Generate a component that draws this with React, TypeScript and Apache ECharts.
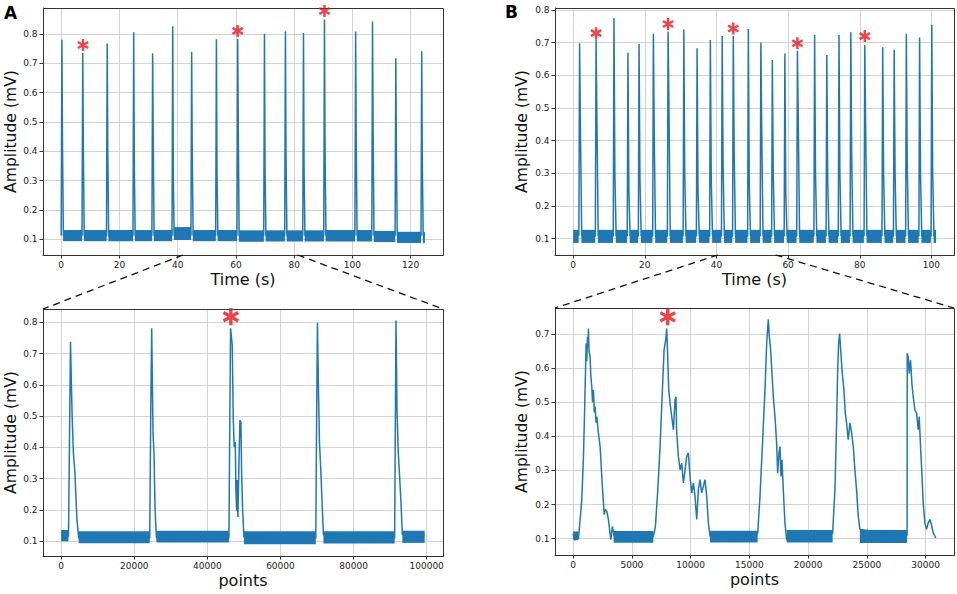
import React, { useEffect, useRef } from "react";
import * as echarts from "echarts";

const BLUE = "#1f77b4";
const RED = "#e8141c";
const FONT = "DejaVu Sans";

// ---------- Panel A, top (time in s) ----------
const aTopPeakTimes = [0.25, 7.4, 15.8, 24.9, 31.4, 38.3, 44.8, 53.3, 60.6, 69.8, 77.0, 83.2, 90.4, 101.1, 106.9, 114.9, 123.8];
const aTopPeakValues = [0.780, 0.736, 0.767, 0.805, 0.734, 0.826, 0.738, 0.782, 0.783, 0.800, 0.809, 0.803, 0.849, 0.808, 0.842, 0.717, 0.741];
const aTopShoulderValues = [0.42, 0.42, 0.40, 0.36, 0.45, 0.30, 0.40, 0.33, 0.49, 0.34, 0.38, 0.33, 0.41, 0.44, 0.47, 0.38, 0.36];
const aTopBandLo = [0.094, 0.094, 0.094, 0.094, 0.094, 0.098, 0.094, 0.094, 0.092, 0.093, 0.093, 0.093, 0.093, 0.093, 0.091, 0.088, 0.088];
const aTopBandHi = [0.132, 0.132, 0.132, 0.132, 0.132, 0.142, 0.132, 0.132, 0.131, 0.131, 0.131, 0.131, 0.132, 0.132, 0.129, 0.126, 0.126];
const aTopEnd = 124.9;
const aTopStars = [[7.5, 0.762], [60.6, 0.81], [90.4, 0.878]];
const aZoomRange = [41.8, 81.2];

// ---------- Panel A, bottom (points) ----------
const aBotTrace = [
  [0, 0.12], [2000, 0.115], [2300, 0.45], [2550, 0.738], [2800, 0.6], [3000, 0.5], [3350, 0.38], [3750, 0.32],
  [4000, 0.25], [4300, 0.17], [4800, 0.11],
  [24230, 0.11], [24500, 0.5], [24770, 0.781], [24950, 0.6], [25140, 0.444], [25400, 0.38], [25690, 0.2], [26060, 0.11],
  [45900, 0.11], [46150, 0.5], [46350, 0.781], [46810, 0.727], [47080, 0.492], [47350, 0.401], [47630, 0.417],
  [47810, 0.262], [48000, 0.198], [48180, 0.295], [48360, 0.177], [48640, 0.348], [48910, 0.487], [49180, 0.481],
  [49370, 0.316], [49650, 0.2], [50000, 0.113],
  [69670, 0.11], [69900, 0.5], [70120, 0.799], [70400, 0.583], [70670, 0.417], [71040, 0.327], [71400, 0.22], [71760, 0.12],
  [91240, 0.11], [91450, 0.5], [91610, 0.806], [91890, 0.519], [92250, 0.38], [92610, 0.305], [92990, 0.22], [93350, 0.12],
  [99460, 0.12],
];
const aBotBand = [
  [0, 2000, 0.099, 0.135], [4800, 24230, 0.093, 0.131], [26060, 45900, 0.095, 0.133],
  [50000, 69670, 0.09, 0.131], [71760, 91240, 0.092, 0.131], [93350, 99460, 0.094, 0.133],
];
const aBotStars = [[46430, 0.818]];

// ---------- Panel B, top (time in s) ----------
const bTopPeakTimes = [1.8, 6.4, 11.4, 15.3, 18.4, 22.4, 26.5, 30.9, 34.6, 38.3, 41.6, 44.7, 48.9, 52.4, 55.6, 59.1, 62.6, 67.4, 70.8, 74.2, 77.5, 81.4, 86.4, 89.6, 93.0, 96.7, 100.1];
const bTopPeakValues = [0.698, 0.710, 0.775, 0.669, 0.696, 0.727, 0.734, 0.740, 0.683, 0.708, 0.720, 0.720, 0.742, 0.700, 0.647, 0.667, 0.675, 0.723, 0.662, 0.723, 0.732, 0.693, 0.686, 0.678, 0.727, 0.716, 0.754];
const bTopShoulderValues = [0.42, 0.455, 0.30, 0.25, 0.28, 0.40, 0.496, 0.30, 0.25, 0.28, 0.33, 0.36, 0.27, 0.42, 0.30, 0.24, 0.45, 0.30, 0.28, 0.30, 0.35, 0.43, 0.30, 0.30, 0.32, 0.30, 0.30];
const bTopBandLo = 0.087;
const bTopBandHi = 0.127;
const bTopEnd = 101.3;
const bTopStars = [[6.4, 0.729], [26.5, 0.757], [44.7, 0.743], [62.6, 0.698], [81.4, 0.720]];
const bZoomRange = [40.4, 56.5];

// ---------- Panel B, bottom (points) ----------
const bBotTrace = [
  [0, 0.115], [150, 0.095], [300, 0.112], [453, 0.1], [595, 0.156], [737, 0.214], [879, 0.341], [964, 0.458],
  [1049, 0.584], [1105, 0.672], [1160, 0.62], [1219, 0.692], [1260, 0.66], [1304, 0.716], [1350, 0.65], [1446, 0.633],
  [1500, 0.58], [1587, 0.545], [1650, 0.5], [1729, 0.536], [1800, 0.47], [1871, 0.487], [1950, 0.44], [2012, 0.458],
  [2154, 0.409], [2296, 0.37], [2438, 0.282], [2579, 0.204], [2650, 0.17], [2721, 0.185], [2863, 0.18], [3004, 0.156],
  [3203, 0.097], [3345, 0.136], [3486, 0.107],
  [6830, 0.107], [7000, 0.135], [7200, 0.241], [7398, 0.37], [7596, 0.536], [7738, 0.653], [7880, 0.683], [7965, 0.716],
  [8050, 0.633], [8135, 0.536], [8248, 0.497], [8390, 0.458], [8532, 0.419], [8673, 0.507], [8758, 0.516], [8800, 0.42],
  [8957, 0.341], [9098, 0.302], [9240, 0.321], [9382, 0.263], [9520, 0.3], [9665, 0.341], [9807, 0.351], [9948, 0.282],
  [10090, 0.234], [10232, 0.263], [10373, 0.224], [10515, 0.156], [10657, 0.243], [10799, 0.273], [10940, 0.234],
  [11082, 0.253], [11224, 0.273], [11365, 0.224], [11507, 0.146], [11649, 0.107],
  [15705, 0.115], [15901, 0.224], [16128, 0.39], [16326, 0.536], [16468, 0.672], [16610, 0.743], [16695, 0.692],
  [16808, 0.653], [16921, 0.584], [17034, 0.516], [17176, 0.458], [17318, 0.38], [17403, 0.292], [17516, 0.351],
  [17601, 0.37], [17686, 0.282], [17771, 0.331], [17884, 0.243], [18026, 0.146], [18168, 0.097],
  [22080, 0.115], [22278, 0.243], [22420, 0.439], [22505, 0.584], [22590, 0.672], [22675, 0.701], [22788, 0.643],
  [22902, 0.584], [23043, 0.536], [23157, 0.468], [23270, 0.439], [23412, 0.39], [23553, 0.439], [23700, 0.41],
  [23837, 0.37], [23978, 0.302], [24120, 0.243], [24262, 0.166], [24404, 0.127],
  [28420, 0.11], [28430, 0.643], [28515, 0.633], [28600, 0.584], [28713, 0.623], [28826, 0.555], [28940, 0.516],
  [29081, 0.477], [29223, 0.468], [29365, 0.419], [29450, 0.458], [29563, 0.37], [29676, 0.292], [29790, 0.204],
  [29931, 0.146], [30073, 0.127], [30215, 0.146], [30356, 0.156], [30500, 0.14], [30640, 0.117], [30867, 0.102],
];
const bBotBand = [
  [0, 450, 0.096, 0.121], [3450, 6830, 0.088, 0.122], [11650, 15700, 0.089, 0.123],
  [18170, 22080, 0.089, 0.125], [24400, 28420, 0.087, 0.125],
];
const bBotStars = [[8050, 0.75]];

// ---------- axis ticks ----------
const aTopXTicks = [0, 20, 40, 60, 80, 100, 120];
const aBotXTicks = [0, 20000, 40000, 60000, 80000, 100000];
const bTopXTicks = [0, 20, 40, 60, 80, 100];
const bBotXTicks = [0, 5000, 10000, 15000, 20000, 25000, 30000];
const yTicks8 = [0.1, 0.2, 0.3, 0.4, 0.5, 0.6, 0.7, 0.8];
const yTicks7 = [0.1, 0.2, 0.3, 0.4, 0.5, 0.6, 0.7];

// layout
const GRIDS = [
  { left: 43, top: 8, width: 400, height: 247 },
  { left: 43, top: 309, width: 400, height: 247 },
  { left: 555, top: 8, width: 399, height: 247 },
  { left: 555, top: 308, width: 399, height: 247 },
];
const X_RANGES = [[-6.245, 131.1], [-4975, 104475], [-5.06, 106.3], [-1543, 32410]];
const Y_RANGES = [[0.047, 0.888], [0.052, 0.843], [0.05, 0.806], [0.052, 0.776]];

const STAR =
  "path://M40 0 L60 0 L60 100 L40 100 Z M1.7 33.66 L11.7 16.34 L98.3 66.34 L88.3 83.66 Z M11.7 83.66 L1.7 66.34 L88.3 16.34 L98.3 33.66 Z";

function spikeTrace(times: number[], peaks: number[], shoulders: number[], pre: number, sh: number, post: number, base: number, end: number) {
  const pts: number[][] = [];
  times.forEach((t, i) => {
    pts.push([Math.max(0, t - pre), base]);
    pts.push([t, peaks[i]]);
    pts.push([t + sh, shoulders[i]]);
    pts.push([t + post, base]);
  });
  pts.push([end, base]);
  return pts;
}

function xAxis(i: number, ticks: number[], name: string) {
  const step = ticks[1] - ticks[0];
  return {
    type: "value",
    gridIndex: i,
    min: X_RANGES[i][0],
    max: X_RANGES[i][1],
    minInterval: step,
    maxInterval: step,
    name,
    nameLocation: "middle",
    nameGap: 16,
    nameTextStyle: { fontFamily: FONT, fontSize: 16, color: "#111" },
    axisLine: { show: true, onZero: false, lineStyle: { color: "#333", width: 1 } },
    axisTick: { show: true, inside: false, length: 3.5, lineStyle: { color: "#333" }, customValues: ticks },
    axisLabel: {
      fontFamily: FONT, fontSize: 9, color: "#222", margin: 5.5, customValues: ticks,
      formatter: (v: number) => String(Math.round(v)),
    },
    splitLine: { show: true, lineStyle: { color: "#d3d3d3", width: 1 } },
  };
}

function yAxis(i: number, ticks: number[], gap: number) {
  return {
    type: "value",
    gridIndex: i,
    min: Y_RANGES[i][0],
    max: Y_RANGES[i][1],
    minInterval: 0.1,
    maxInterval: 0.1,
    name: "Amplitude (mV)",
    nameLocation: "middle",
    nameGap: gap,
    nameTextStyle: { fontFamily: FONT, fontSize: 15.6, color: "#111" },
    axisLine: { show: true, onZero: false, lineStyle: { color: "#333", width: 1 } },
    axisTick: { show: true, inside: false, length: 3.5, lineStyle: { color: "#333" }, customValues: ticks },
    axisLabel: {
      fontFamily: FONT, fontSize: 9, color: "#222", margin: 5.5, customValues: ticks,
      formatter: (v: number) => String(Math.round(v * 10) / 10),
    },
    splitLine: { show: true, lineStyle: { color: "#d3d3d3", width: 1 } },
  };
}

function bandSeries(i: number, segs: number[][]) {
  return {
    type: "custom",
    xAxisIndex: i,
    yAxisIndex: i,
    silent: true,
    clip: true,
    z: 2,
    data: segs,
    encode: { x: [0, 1], y: [2, 3] },
    renderItem: (_p: any, api: any) => {
      const a = api.coord([api.value(0), api.value(3)]);
      const b = api.coord([api.value(1), api.value(2)]);
      return {
        type: "rect",
        shape: { x: a[0], y: a[1], width: b[0] - a[0], height: b[1] - a[1] },
        style: { fill: BLUE },
      };
    },
  };
}

function traceSeries(i: number, data: number[][]) {
  return {
    type: "line",
    xAxisIndex: i,
    yAxisIndex: i,
    data,
    showSymbol: false,
    symbol: "none",
    silent: true,
    z: 3,
    lineStyle: { color: BLUE, width: 1.5 },
  };
}

function starSeries(i: number, data: number[][], size: number) {
  return {
    type: "scatter",
    xAxisIndex: i,
    yAxisIndex: i,
    data,
    symbol: STAR,
    symbolSize: size,
    symbolKeepAspect: true,
    clip: false,
    silent: true,
    z: 10,
    itemStyle: { color: RED },
  };
}

function buildOption() {
  const aTopTrace = spikeTrace(aTopPeakTimes, aTopPeakValues, aTopShoulderValues, 0.25, 0.2, 0.5, 0.113, aTopEnd);
  const aTopBand: number[][] = aTopPeakTimes.map((t, i) => [
    t + 0.4,
    i + 1 < aTopPeakTimes.length ? aTopPeakTimes[i + 1] - 0.2 : aTopEnd,
    aTopBandLo[i],
    aTopBandHi[i],
  ]);
  const bTopTrace = spikeTrace(bTopPeakTimes, bTopPeakValues, bTopShoulderValues, 0.2, 0.25, 0.6, 0.108, bTopEnd);
  const bTopBand: number[][] = [[0, bTopPeakTimes[0] - 0.25, bTopBandLo, bTopBandHi]];
  bTopPeakTimes.forEach((t, i) => {
    const e = i + 1 < bTopPeakTimes.length ? bTopPeakTimes[i + 1] - 0.25 : bTopEnd;
    if (e > t + 0.5) bTopBand.push([t + 0.5, e, bTopBandLo, bTopBandHi]);
  });

  return {
    animation: false,
    backgroundColor: "#fff",
    grid: GRIDS.map((g) => ({ ...g, containLabel: false, show: false })),
    xAxis: [
      xAxis(0, aTopXTicks, "Time (s)"),
      xAxis(1, aBotXTicks, "points"),
      xAxis(2, bTopXTicks, "Time (s)"),
      xAxis(3, bBotXTicks, "points"),
    ],
    yAxis: [yAxis(0, yTicks8, 24), yAxis(1, yTicks8, 24), yAxis(2, yTicks8, 25), yAxis(3, yTicks7, 25)],
    series: [
      bandSeries(0, aTopBand), traceSeries(0, aTopTrace), starSeries(0, aTopStars, 12),
      bandSeries(1, aBotBand), traceSeries(1, aBotTrace), starSeries(1, aBotStars, 17),
      bandSeries(2, bTopBand), traceSeries(2, bTopTrace), starSeries(2, bTopStars, 12),
      bandSeries(3, bBotBand), traceSeries(3, bBotTrace), starSeries(3, bBotStars, 17),
    ],
  };
}

export default function App() {
  const ref = useRef<HTMLDivElement>(null);
  useEffect(() => {
    const el = ref.current;
    if (!el) return;
    const chart = echarts.init(el, null, { renderer: "svg", width: 957, height: 594 });
    chart.setOption(buildOption() as any);

    const px = (i: number, v: number[]) => chart.convertToPixel({ xAxisIndex: i, yAxisIndex: i } as any, v) as number[];
    const dash = { stroke: "#111", lineWidth: 1.3, lineDash: [7, 5] };
    const connectors: any[] = [];
    [[0, 1, aZoomRange], [2, 3, bZoomRange]].forEach(([top, bot, rng]: any) => {
      const l = px(top, [rng[0], Y_RANGES[top][0]]);
      const r = px(top, [rng[1], Y_RANGES[top][0]]);
      const bl = px(bot, [X_RANGES[bot][0], Y_RANGES[bot][1]]);
      const br = px(bot, [X_RANGES[bot][1], Y_RANGES[bot][1]]);
      connectors.push({ type: "line", z: 5, silent: true, shape: { x1: l[0], y1: l[1], x2: bl[0], y2: bl[1] }, style: dash });
      connectors.push({ type: "line", z: 5, silent: true, shape: { x1: r[0], y1: r[1], x2: br[0], y2: br[1] }, style: dash });
    });
    const frames = GRIDS.map((g) => ({
      type: "rect", z: 5, silent: true,
      shape: { x: g.left + 0.5, y: g.top + 0.5, width: g.width, height: g.height },
      style: { fill: "none", stroke: "#333", lineWidth: 1 },
    }));
    const letters = [
      { type: "text", z: 6, left: 4, top: 4, style: { text: "A", fontFamily: FONT, fontSize: 17, fontWeight: "bold", fill: "#000" } },
      { type: "text", z: 6, left: 505, top: 3, style: { text: "B", fontFamily: FONT, fontSize: 17, fontWeight: "bold", fill: "#000" } },
    ];
    chart.setOption({ graphic: { elements: [...frames, ...connectors, ...letters] } } as any);
    return () => chart.dispose();
  }, []);
  return (
    <div
      ref={ref}
      style={{ position: "fixed", left: 0, top: 0, width: 957, height: 594, background: "#fff" }}
    />
  );
}
